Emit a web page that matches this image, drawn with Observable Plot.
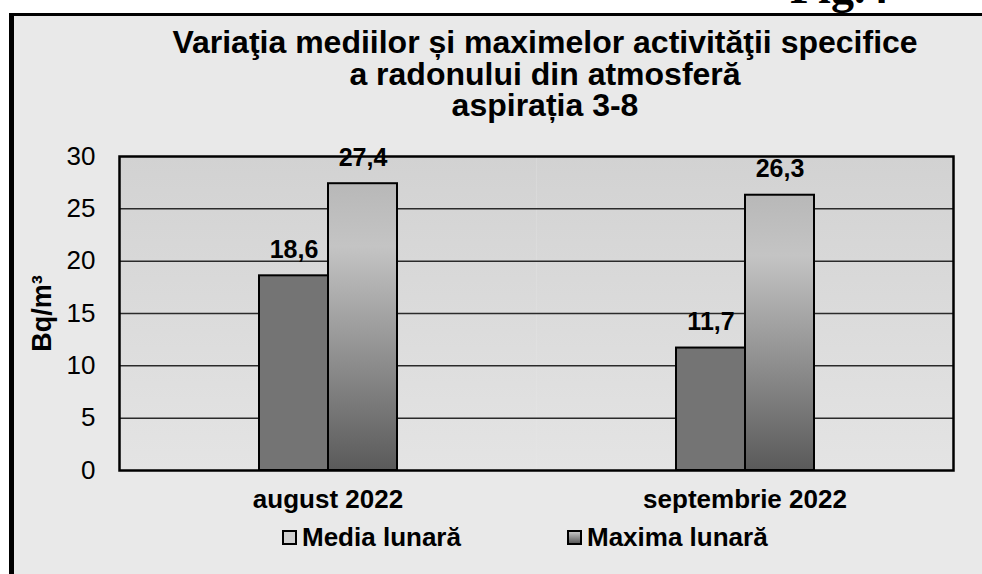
<!DOCTYPE html>
<html>
<head>
<meta charset="utf-8">
<script src="https://cdn.jsdelivr.net/npm/d3@7"></script>
<script src="https://cdn.jsdelivr.net/npm/@observablehq/plot@0.6"></script>
<style>
  html, body { margin: 0; padding: 0; background: #fff; }
  #page { position: relative; width: 982px; height: 574px; overflow: hidden; font-family: "Liberation Sans", Arial, sans-serif; }
  #fig { position: absolute; left: 790px; top: -35px; font-family: "Liberation Serif", "Times New Roman", serif; font-weight: bold; font-size: 46px; line-height: 46px; color: #000; z-index: 0; }
  #panel { position: absolute; left: 9px; top: 13px; width: 973px; height: 561px; box-sizing: border-box; border-left: 5px solid #000; border-top: 3px solid #000; background: #e9e9e9; z-index: 1; }
  #title { position: absolute; left: 31px; top: 11px; width: 1000px; text-align: center; font-weight: bold; font-size: 32px; line-height: 31.5px; color: #000; white-space: nowrap; }
  #chart { position: absolute; left: 0px; top: 114px; }
  #legend { position: absolute; top: 507px; left: 0; width: 968px; height: 30px; font-weight: bold; font-size: 26px; color: #000; }
  .item { position: absolute; top: 0; display: flex; align-items: center; height: 28px; white-space: nowrap; }
  .sw { width: 11px; height: 11px; border: 2px solid #000; margin-right: 5px; }
</style>
</head>
<body>
<svg width="0" height="0" style="position:absolute">
  <defs>
    <linearGradient id="maxGrad" x1="0" y1="0" x2="0" y2="1">
      <stop offset="0%" stop-color="#b8b8b8"/>
      <stop offset="22%" stop-color="#c4c4c4"/>
      <stop offset="100%" stop-color="#5a5a5a"/>
    </linearGradient>
    <linearGradient id="bgGrad" x1="0" y1="0" x2="0" y2="1">
      <stop offset="0%" stop-color="#d2d2d2"/>
      <stop offset="100%" stop-color="#e4e4e4"/>
    </linearGradient>
  </defs>
</svg>
<div id="page">
  <div id="fig">Fig.4</div>
  <div id="panel">
    <div id="title">Variaţia mediilor și maximelor activităţii specifice<br>a radonului din atmosferă<br>aspirația 3-8</div>
    <div id="chart"></div>
    <div id="legend">
      <div class="item" style="left:268px"><span class="sw" style="background:#d0d0d0"></span>Media lunară</div>
      <div class="item" style="left:553px"><span class="sw" style="background:linear-gradient(#c4c4c4,#5a5a5a)"></span>Maxima lunară</div>
    </div>
  </div>
</div>
<script>
const months = ["august 2022", "septembrie 2022"];
const seriesNames = ["Media lunară", "Maxima lunară"];
const mediaValues = [18.6, 11.7];
const maximaValues = [27.4, 26.3];
const yTicks = [0, 5, 10, 15, 20, 25, 30];
const gridTicks = [5, 10, 15, 20, 25];

const data = months.flatMap((m, i) => [
  {month: m, series: seriesNames[0], value: mediaValues[i]},
  {month: m, series: seriesNames[1], value: maximaValues[i]}
]);
const fmt = v => v.toFixed(1).replace(".", ",");

const chart = Plot.plot({
  width: 968,
  height: 390,
  marginTop: 26,
  marginBottom: 50,
  marginLeft: 104,
  marginRight: 29,
  style: {background: "transparent", fontFamily: "'Liberation Sans', Arial, sans-serif", color: "#000", overflow: "visible"},
  fx: {domain: months, padding: 0, label: null},
  x: {domain: seriesNames, paddingInner: 0, paddingOuter: 2, axis: null},
  y: {domain: [0, 30], label: null},
  marks: [
    Plot.frame({fill: "url(#bgGrad)", stroke: "none"}),
    Plot.ruleY(gridTicks, {y: d => d, stroke: "#2a2a2a", strokeWidth: 1.5}),
    Plot.barY(data.filter(d => d.series === seriesNames[0]), {fx: "month", x: "series", y: "value", fill: "#747474", stroke: "#000", strokeWidth: 2}),
    Plot.barY(data.filter(d => d.series === seriesNames[1]), {fx: "month", x: "series", y: "value", fill: "url(#maxGrad)", stroke: "#000", strokeWidth: 2}),
    Plot.text(data, {fx: "month", x: "series", y: "value", text: d => fmt(d.value), dy: -26, lineAnchor: "middle", fontWeight: "bold", fontSize: 25, fill: "#000"}),
    Plot.frame({stroke: "#000", strokeWidth: 2.5, fill: "none", facet: "super"}),
    Plot.axisY({ticks: yTicks, tickSize: 0, tickPadding: 24, fontSize: 26, tickFormat: d => String(d), label: "Bq/m³", labelAnchor: "center", labelArrow: "none", labelOffset: 88}),
    Plot.axisFx({anchor: "bottom", tickSize: 0, tickPadding: 19, fontSize: 26, fontWeight: "bold", label: null})
  ]
});
document.getElementById("chart").appendChild(chart);
// style the y-axis label bold
chart.querySelectorAll("g[aria-label='y-axis label'] text").forEach(t => { t.setAttribute("font-weight", "bold"); t.setAttribute("font-size", "27"); });
</script>
</body>
</html>
